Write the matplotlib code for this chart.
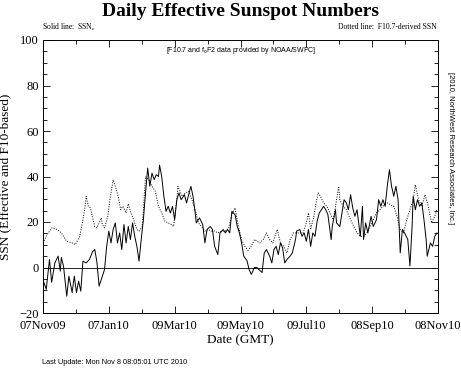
import numpy as np
import matplotlib.pyplot as plt
from matplotlib.ticker import MultipleLocator

# Days since 07Nov09 and effective SSN (solid line)
ssn_day = [0, 3, 6, 8, 11, 14, 16, 17, 19, 22, 24, 27, 29, 31, 33, 35, 37, 40, 43, 46,
           48, 50, 52, 54, 57, 59, 61, 63, 65, 67, 69, 71, 73, 75, 77, 79, 81, 83, 85, 87,
           89, 91, 93, 95, 97, 99, 101, 103, 105, 107, 108, 110, 112, 114, 116, 118, 120, 122, 124, 126,
           128, 131, 133, 135, 137, 139, 141, 142, 145, 148, 150, 152, 155, 157, 159, 162, 164, 167, 169, 171,
           173, 175, 178, 180, 182, 184, 186, 189, 191, 193, 196, 198, 200, 203, 205, 207, 210, 212, 214, 216,
           218, 220, 222, 224, 226, 229, 231, 234, 235, 238, 240, 242, 244, 246, 248, 250, 252, 254, 256, 258,
           260, 262, 264, 267, 268, 271, 272, 275, 277, 279, 281, 283, 285, 287, 289, 291, 294, 296, 297, 299,
           301, 304, 306, 309, 311, 313, 315, 317, 319, 321, 323, 325, 327, 329, 331, 333, 335, 338, 340, 342,
           343, 345, 347, 349, 351, 353, 355, 356, 359, 361, 363, 365]
ssn_eff = [-5.4, -9.6, 3.5, -6.5, 2.0, 5.0, -1.6, 4.4, 0.6, -12.6, -3.8, -11.0, -3.8, -11.0, -6.0, -10.4, 2.8, 2.0, 3.5, 7.0,
           7.9, 2.2, -8.2, -5.3, -0.9, 9.3, 16.0, 10.8, 16.7, 19.6, 10.8, 15.2, 7.9, 18.9, 10.8, 18.0, 12.3, 19.6, 13.7, 9.3,
           2.8, 12.3, 21.0, 32.8, 43.7, 35.7, 41.5, 38.6, 40.8, 40.0, 45.0, 40.0, 31.3, 24.7, 26.9, 24.0, 26.9, 21.0, 29.8, 32.8,
           29.8, 32.0, 28.4, 32.0, 35.7, 31.3, 24.0, 19.6, 21.8, 18.9, 10.8, 16.7, 18.0, 16.7, 9.3, 5.7, 15.2, 16.7, 15.2, 16.7,
           15.2, 24.7, 23.2, 18.0, 15.2, 10.8, 5.0, 3.0, -0.9, -3.0, 0.0, 0.0, -0.9, -2.2, 6.4, 7.9, 5.0, 2.0, 7.9, 9.3,
           5.7, 10.8, 8.6, 2.0, 3.5, 5.0, 6.4, 12.3, 16.0, 16.7, 13.7, 15.2, 11.5, 16.7, 9.3, 15.2, 13.7, 20.3, 24.0, 25.4,
           26.9, 25.4, 23.2, 12.3, 18.0, 25.4, 19.6, 18.0, 24.0, 29.8, 28.4, 25.4, 32.0, 26.2, 22.5, 25.4, 13.7, 26.9, 12.3, 19.6,
           15.2, 22.5, 18.0, 21.0, 29.8, 26.9, 29.8, 26.9, 35.7, 43.0, 35.7, 31.3, 35.7, 29.8, 6.4, 16.7, 15.2, 12.3, 0.7, 18.0,
           31.3, 25.4, 29.8, 26.9, 28.4, 21.0, 12.3, 5.0, 10.8, 9.3, 13.7, 15.2]

# F10.7-derived SSN (dotted line)
f10_day = [0, 3, 8, 13, 17, 22, 27, 30, 34, 37, 39, 40, 42, 44, 46, 48, 50, 52, 54, 55,
           57, 60, 62, 65, 68, 70, 72, 74, 77, 79, 81, 84, 87, 89, 92, 94, 95, 98, 101, 104,
           107, 110, 113, 116, 119, 121, 124, 125, 129, 132, 135, 138, 141, 144, 147, 150, 153, 156, 159, 162,
           166, 169, 172, 175, 178, 181, 184, 187, 190, 193, 196, 201, 204, 207, 210, 213, 217, 220, 223, 226,
           229, 232, 235, 238, 241, 244, 246, 248, 251, 253, 255, 257, 260, 263, 266, 269, 272, 274, 275, 278,
           281, 285, 288, 291, 294, 297, 300, 303, 306, 309, 312, 315, 319, 322, 325, 328, 331, 334, 337, 340,
           343, 345, 348, 351, 354, 357, 360, 363, 365]
f10_ssn = [10.8, 13.7, 17.4, 16.7, 15.2, 11.5, 10.8, 10.1, 13.7, 21.0, 26.9, 31.3, 26.9, 26.2, 21.8, 18.0, 17.4, 19.6, 21.8, 18.9,
           17.4, 22.5, 29.8, 38.6, 34.2, 30.5, 25.4, 26.9, 24.0, 28.0, 24.7, 21.0, 16.7, 16.0, 18.0, 32.8, 40.0, 38.6, 35.7, 33.5,
           26.9, 24.0, 20.3, 19.6, 18.9, 18.0, 29.8, 35.7, 31.3, 32.8, 33.5, 29.8, 25.4, 19.6, 18.0, 16.0, 16.7, 16.0, 16.0, 15.2,
           16.0, 16.0, 17.4, 23.2, 26.2, 18.0, 12.3, 9.3, 7.5, 9.3, 12.3, 10.8, 12.3, 15.2, 12.3, 10.8, 16.7, 10.8, 9.3, 6.4,
           12.3, 15.2, 15.2, 15.2, 15.2, 19.6, 24.0, 16.7, 22.5, 28.4, 32.8, 31.3, 28.4, 26.9, 24.0, 21.0, 29.8, 35.7, 29.8, 26.9,
           25.4, 21.0, 18.0, 15.2, 13.7, 13.7, 15.2, 18.0, 21.0, 24.0, 25.4, 26.9, 28.4, 27.6, 26.9, 22.5, 16.7, 15.2, 21.0, 25.4,
           29.8, 36.4, 29.8, 26.9, 32.0, 26.9, 19.6, 22.5, 25.4]

date_ticks = [0, 61, 122, 183, 244, 305, 366]
date_labels = ["07Nov09", "07Jan10", "09Mar10", "09May10", "09Jul10", "08Sep10", "08Nov10"]

serif = "Liberation Serif"
sans = "Liberation Sans"
plt.rcParams["mathtext.fontset"] = "custom"
plt.rcParams["mathtext.rm"] = serif

fig = plt.figure(figsize=(4.61, 3.68), dpi=100)
ax = fig.add_axes([43/461, 55/368, 395/461, 273/368])

ax.plot(ssn_day, ssn_eff, color="black", lw=0.7)
ax.plot(f10_day, f10_ssn, color="black", lw=0.7, ls=(0, (1, 1.5)))
ax.axhline(0, color="black", lw=0.6)

ax.set_xlim(0, 366)
ax.set_ylim(-20, 100)
ax.set_xticks(date_ticks)
ax.set_xticklabels(date_labels, fontfamily=serif, fontsize=9)
ax.xaxis.set_minor_locator(MultipleLocator(30.5))
ax.yaxis.set_major_locator(MultipleLocator(20))
ax.yaxis.set_minor_locator(MultipleLocator(5))
for lab in ax.get_yticklabels():
    lab.set_fontfamily(serif)
    lab.set_fontsize(9)
ax.tick_params(which="both", direction="in", top=True, right=True, width=0.6)
ax.tick_params(which="major", length=5)
ax.tick_params(which="minor", length=3)
ax.tick_params(axis="x", which="major", pad=5)
ax.tick_params(axis="y", which="major", pad=3)
for s in ax.spines.values():
    s.set_linewidth(0.7)

ax.set_xlabel("Date (GMT)", fontfamily=serif, fontsize=9.5, labelpad=2)
ax.set_ylabel("SSN (Effective and F10-based)", fontfamily=serif, fontsize=9.5, labelpad=6)

fig.text(240/461, 1 - 12/368, "Daily Effective Sunspot Numbers", ha="center", va="center",
         fontfamily=serif, fontsize=14, fontweight="bold")
fig.text(42/461, 1 - 27/368, "Solid line:  SSN$_\\mathrm{e}$", ha="left", va="center",
         fontfamily=serif, fontsize=5.5)
fig.text(437/461, 1 - 27/368, "Dotted line:  F10.7-derived SSN", ha="right", va="center",
         fontfamily=serif, fontsize=5.5)
fig.text(241/461, 1 - 50/368, "[F10.7 and f$_\\mathregular{o}$F2 data provided by NOAA/SWPC]", ha="center",
         va="center", fontfamily=sans, fontsize=5)
fig.text(450/461, 1 - 148/368, "[2010, NorthWest Research Associates, Inc.]", ha="center", va="center",
         rotation=-90, fontfamily=sans, fontsize=5.5)
fig.text(42/461, 1 - 362/368, "Last Update: Mon Nov 8 08:05:01 UTC 2010", ha="left", va="center",
         fontfamily=sans, fontsize=5.3)

fig.savefig("out.png", dpi=100)
